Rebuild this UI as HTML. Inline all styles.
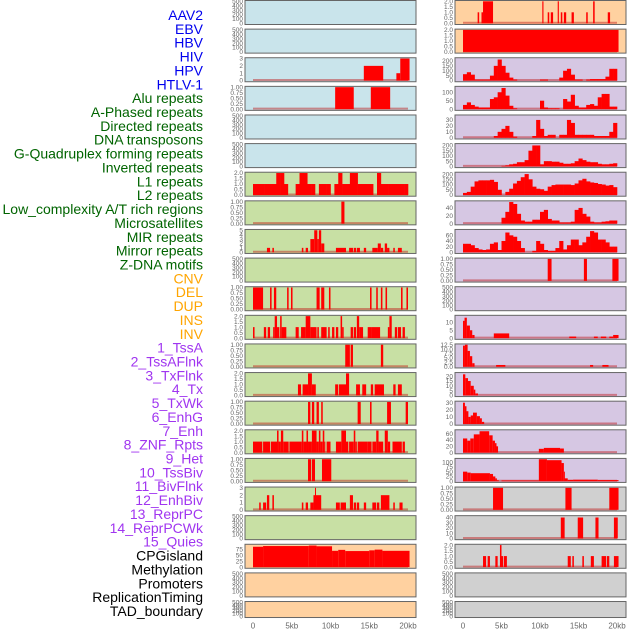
<!DOCTYPE html>
<html><head><meta charset="utf-8">
<style>
html,body{margin:0;padding:0;background:#fff;}
svg{display:block;}
.lab{font-family:"Liberation Sans",sans-serif;font-size:14px;}
.tk{font-family:"Liberation Sans",sans-serif;font-size:6.5px;fill:#666;}
.xt{font-family:"Liberation Sans",sans-serif;font-size:8px;fill:#666;}
</style></head>
<body>
<svg id="chart" width="630" height="630" viewBox="0 0 630 630" xmlns="http://www.w3.org/2000/svg">
<g id="labels"></g>
<g id="panels"></g>
<g id="xaxis"></g>
</svg>
<script>
// ---- labels ----
const labelNames = ["AAV2","EBV","HBV","HIV","HPV","HTLV-1","Alu repeats","A-Phased repeats","Directed repeats","DNA transposons","G-Quadruplex forming repeats","Inverted repeats","L1 repeats","L2 repeats","Low_complexity A/T rich regions","Microsatellites","MIR repeats","Mirror repeats","Z-DNA motifs","CNV","DEL","DUP","INS","INV","1_TssA","2_TssAFlnk","3_TxFlnk","4_Tx","5_TxWk","6_EnhG","7_Enh","8_ZNF_Rpts","9_Het","10_TssBiv","11_BivFlnk","12_EnhBiv","13_ReprPC","14_ReprPCWk","15_Quies","CPGisland","Methylation","Promoters","ReplicationTiming","TAD_boundary"];
const labelGroups = [6,13,5,15,5];
const groupColors = ["#0000ee","#006400","#ffa500","#a035f0","#000000"];

// ---- tick label sets ----
const T500 = ["0","100","200","300","400","500"];
const T3 = ["0","1","2","3"];
const T5 = ["0","1","2","3","4","5"];
const T1 = ["0.00","0.25","0.50","0.75","1.00"];
const T2 = ["0.0","0.5","1.0","1.5","2.0"];
const T75 = ["0","25","50","75"];
const T200 = ["0","50","100","150","200"];
const T100 = ["0","50","100"];
const T30 = ["0","10","20","30"];
const T40 = ["0","20","40"];
const T60 = ["0","20","40","60"];
const T10 = ["0","5","10"];
const T12 = ["0.0","2.5","5.0","7.5","10.0","12.5"];
const T20 = ["0","5","10","15","20"];
const T100b = ["0","25","50","75","100"];
const T40b = ["0","10","20","30","40"];

// ---- left column data (segments: start kb, end kb, value) ----
const L2 = [14.3,16.8,2, 18.5,19.0,1, 19.0,20.2,3];
const L3 = [10.6,13.0,1, 15.2,17.7,1];
const L6bins = [1,1,1,1,1,1,2,2,1,0,0,1,2,2,1,1,0,1,1,1,0,1,2,1,1,2,2,1,1,1,1,0,2,1,1,1,1,1,1,1];
const L7 = [11.4,11.8,1];
const L8 = [1.8,2.2,1, 2.5,2.7,1, 6.3,6.5,1, 6.8,7.1,1, 7.4,7.9,3, 7.9,8.3,5, 8.3,8.5,3, 8.5,8.8,5, 8.8,9.2,2, 10.7,12.0,1, 12.4,12.9,1, 13.0,13.3,1, 13.4,13.8,1, 14.3,14.6,1, 15.4,16.1,1, 16.1,16.5,2, 16.5,16.8,1, 17.0,17.3,2, 17.3,17.6,1, 18.1,18.3,1, 18.7,19.2,1];
const L10 = [0,1.3,1, 2.2,2.4,1, 2.7,3.0,1, 4.4,4.6,1, 4.9,5.1,1, 8.2,8.6,1, 8.8,9.2,1, 9.8,10.0,1, 15.1,15.3,1, 15.9,16.1,1, 16.5,16.7,1, 17.1,17.3,1, 19.1,19.3,1, 19.8,20.0,1];
const L11 = [0,0.2,1, 1.4,1.7,1, 1.9,2.2,1, 2.6,2.8,1, 2.8,3.1,2, 3.1,3.4,1, 3.5,3.7,2, 3.7,4.3,1, 5.5,5.9,1, 6.2,6.8,1, 6.8,7.4,2, 7.4,8.2,1, 8.3,8.5,1, 8.8,9.5,1, 9.7,9.9,1, 10.2,10.5,1, 10.7,11.0,1, 11.3,11.5,2, 11.5,11.7,1, 12.6,12.9,1, 13.0,13.3,1, 13.4,13.7,2, 13.7,14.2,1, 14.8,15.3,1, 15.3,16.4,1, 17.4,17.6,1, 17.6,17.9,2, 18.3,18.6,1, 18.7,19.1,1, 19.3,19.6,1];
const L12 = [11.9,12.5,1, 12.6,12.9,1, 16.5,16.8,1];
const L13 = [5.8,6.2,1, 6.4,7.1,1, 7.1,7.6,2, 7.6,8.1,1, 10.6,11.0,1, 11.1,12.0,1, 12.0,12.4,2, 13.3,13.8,1, 14.1,14.6,1, 15.2,15.5,1, 15.7,16.9,1, 18.1,18.4,1, 18.7,19.2,1];
const L14 = [7.1,7.4,1, 7.6,7.9,1, 8.2,8.5,1, 8.8,9.0,1, 13.5,13.9,1, 15.1,15.3,1, 17.3,17.8,1, 19.7,20.0,1];
const L15 = [0,1.2,1, 1.3,2.2,1, 2.3,3.1,1, 3.1,3.3,2, 3.3,3.6,1, 3.6,3.9,2, 3.9,4.6,1, 4.7,6.3,1, 6.3,6.5,2, 6.5,6.9,1, 6.9,7.1,2, 7.1,7.6,1, 7.6,8.2,2, 8.2,8.5,1, 8.5,8.7,2, 8.7,9.0,1, 9.0,9.2,2, 9.2,9.3,1, 9.5,10.0,1, 10.7,11.4,1, 11.4,12.0,2, 12.0,12.3,1, 12.4,13.0,1, 13.0,13.2,2, 13.2,13.4,1, 13.5,14.8,1, 14.8,15.3,1, 15.4,15.9,1, 15.9,16.2,2, 16.2,16.8,1, 17.0,17.4,2, 17.4,17.7,1, 18.0,19.2,1, 19.3,19.6,1];
const L16 = [7.1,7.5,1, 7.6,8.0,1, 8.9,10.1,1];
const L17 = [0.8,1.0,1, 1.3,1.7,1, 1.8,2.1,2, 2.5,2.7,2, 6.3,6.5,1, 6.8,7.1,1, 7.4,7.8,1, 7.8,8.0,2, 8.0,8.1,3, 8.1,8.8,2, 10.7,11.2,1, 11.3,12.0,1, 12.5,12.9,2, 13.0,13.3,1, 13.4,13.7,1, 14.3,14.6,1, 15.4,15.9,1, 16.0,16.3,1, 16.5,17.6,2, 18.1,18.3,1, 18.9,19.3,1];
const L19 = [0,1.3,85, 1.3,7.2,88, 7.2,8.2,90, 8.2,10.2,87, 10.2,11.0,68, 11.0,11.9,72, 11.9,15.0,67, 15.0,15.7,70, 15.7,16.7,73, 16.7,20.2,68];

// ---- right column data ----
const R0 = [1.9,2.1,1, 2.4,2.6,1, 2.6,3.9,2, 10.3,10.45,2, 11.0,11.2,1, 11.4,11.7,1, 12.3,12.45,2, 12.7,12.9,1, 13.1,13.4,1, 14.1,14.4,1, 16.0,16.2,1, 16.9,17.1,2, 18.8,19.1,1];
const R1 = [0,20.2,2];
const R2bins = [65,85,60,10,10,10,10,50,150,215,150,80,30,10,0,0,0,0,0,0,10,10,0,0,0,30,100,120,60,10,10,0,10,15,15,15,15,40,120,120];
const R3bins = [25,40,25,15,10,10,10,60,70,100,125,80,20,5,0,0,0,0,0,0,50,10,5,5,5,0,60,45,85,20,10,10,25,30,20,70,90,90,15,15];
const R4bins = [0,0,0,0,0,0,0,0,3,10,15,20,10,2,0,0,0,0,3,30,15,3,5,5,0,5,5,30,25,5,5,5,5,5,3,3,3,3,10,25];
const R5bins = [0,0,0,0,0,0,0,0,0,0,5,10,20,25,40,40,60,150,200,200,20,50,50,45,45,35,25,25,30,50,75,60,45,40,40,25,20,20,25,30];
const R6bins = [20,30,80,130,140,140,140,145,125,50,0,30,60,110,135,170,200,150,80,60,55,40,80,95,100,100,100,100,95,110,140,155,130,120,115,105,100,90,95,75];
const R7bins = [0,0,0,0,0,0,0,0,0,0,15,30,55,50,25,8,5,5,10,10,30,35,12,8,8,3,3,3,5,35,40,25,18,5,3,3,5,6,8,8];
const R8bins = [30,30,25,15,10,8,10,30,35,8,40,70,60,55,40,15,0,0,5,40,30,8,5,5,15,40,10,25,45,45,25,35,55,75,70,45,45,35,20,20];
const R9 = [11.0,11.5,1, 15.7,16.1,1, 19.4,20.2,1];
const R11 = [0,0.2,11, 0.2,0.5,13, 0.5,0.9,8, 0.9,1.2,5, 1.2,1.5,2, 4.0,6.0,3, 13.8,14.7,1, 17.0,17.5,1, 17.9,18.6,1, 19.0,19.5,1, 19.5,20.2,2];
const R12 = [0,0.25,12, 0.25,0.6,12.5, 0.6,0.9,9, 0.9,1.2,6, 1.2,1.5,2, 4.3,5.5,1, 16.5,16.9,1, 18.1,18.9,1];
const R13 = [0,0.3,22, 0.3,0.65,18, 0.65,1.0,15, 1.0,1.4,10, 1.4,1.6,6, 1.6,1.95,2];
const R14 = [0,0.25,30, 0.25,0.45,25, 0.45,0.7,18, 0.7,1.0,10, 1.0,1.3,12, 1.3,1.8,16, 1.8,2.2,11, 2.2,2.45,8, 2.45,2.75,3];
const R15 = [0,0.55,45, 0.55,0.95,38, 0.95,1.4,45, 1.4,2.15,58, 2.15,3.4,68, 3.4,3.85,55, 3.85,4.15,38, 4.15,4.35,30, 4.35,4.55,20, 9.85,10.5,12, 10.5,12.6,15, 12.6,13.1,13];
const R16 = [0,0.55,50, 0.55,1.0,45, 1.0,3.5,42, 3.5,3.9,38, 3.9,4.2,25, 4.2,4.4,15, 4.4,4.65,5, 5.0,9.85,4, 9.85,10.9,115, 10.9,12.8,110, 12.8,13.1,95, 13.1,13.2,50, 13.2,13.6,15, 13.6,14.3,7, 14.3,17.5,8, 17.5,20.2,6];
const R17 = [3.9,5.2,1, 13.3,14.1,1, 19.0,20.2,1];
const R18 = [12.7,13.2,40, 14.9,15.6,40, 17.2,17.6,40, 19.6,20.1,40];
const R19 = [2.6,3.0,1, 3.2,3.5,1, 4.2,4.5,1, 4.8,5.0,2, 5.0,5.2,1, 5.3,5.7,1, 13.6,14.0,1, 14.2,14.4,1, 15.5,15.7,1, 16.6,17.0,1, 18.0,18.6,1, 18.7,19.0,1, 19.6,20.2,1];

const xTickValues = [0,5,10,15,20];
const xTickLabels = ["0","5kb","10kb","15kb","20kb"];

// ---- panel configuration (col, row, bg, ymax, ticks, data) ----
const BLUE="#c9e4eb", GREEN="#c8e0a4", PURPLE="#d6c7e3", GRAY="#d0d0d0", PEACH="#ffd1a0";
const panels = [
 [0,0,BLUE,500,T500,null,null],[0,1,BLUE,500,T500,null,null],[0,2,BLUE,3,T3,L2,null],[0,3,BLUE,1,T1,L3,null],
 [0,4,BLUE,500,T500,null,null],[0,5,BLUE,500,T500,null,null],[0,6,GREEN,2,T2,null,L6bins],[0,7,GREEN,1,T1,L7,null],
 [0,8,GREEN,5,T5,L8,null],[0,9,GREEN,500,T500,null,null],[0,10,GREEN,1,T1,L10,null],[0,11,GREEN,2,T2,L11,null],
 [0,12,GREEN,1,T1,L12,null],[0,13,GREEN,2,T2,L13,null],[0,14,GREEN,1,T1,L14,null],[0,15,GREEN,2,T2,L15,null],
 [0,16,GREEN,1,T1,L16,null],[0,17,GREEN,3,T3,L17,null],[0,18,GREEN,500,T500,null,null],[0,19,PEACH,92,T75,L19,null],
 [0,20,PEACH,500,T500,null,null],[0,21,PEACH,500,T500,null,null],
 [1,0,PEACH,2,T2,R0,null],[1,1,PEACH,2,T2,R1,null],[1,2,PURPLE,225,T200,null,R2bins],[1,3,PURPLE,130,T100,null,R3bins],
 [1,4,PURPLE,37,T30,null,R4bins],[1,5,PURPLE,210,T200,null,R5bins],[1,6,PURPLE,210,T200,null,R6bins],[1,7,PURPLE,56,T40,null,R7bins],
 [1,8,PURPLE,78,T60,null,R8bins],[1,9,PURPLE,1,T1,R9,null],[1,10,PURPLE,500,T500,null,null],[1,11,PURPLE,14,T10,R11,null],
 [1,12,PURPLE,12.5,T12,R12,null],[1,13,PURPLE,23,T20,R13,null],[1,14,PURPLE,31,T30,R14,null],[1,15,PURPLE,70,T60,R15,null],
 [1,16,PURPLE,115,T100b,R16,null],[1,17,GRAY,1,T1,R17,null],[1,18,GRAY,42,T40b,R18,null],[1,19,GRAY,2,T2,R19,null],
 [1,20,GRAY,500,T500,null,null],[1,21,GRAY,500,T500,null,null]
];

const NS="http://www.w3.org/2000/svg";
function mk(tag, attrs, parent){const e=document.createElementNS(NS,tag);for(const k in attrs)e.setAttribute(k,attrs[k]);parent.appendChild(e);return e;}

// labels
const lg=document.getElementById('labels');
let li=0;
labelGroups.forEach((n,gi)=>{for(let j=0;j<n;j++){
  const t=mk('text',{x:203,y:(15+li*13.86+5).toFixed(1),'text-anchor':'end',class:'lab',fill:groupColors[gi]},lg);
  
  
  t.textContent=labelNames[li]; li++;
}});

const colX=[{left:245,right:416,x0:253,pxkb:7.75,tickX:243},{left:455,right:626,x0:463,pxkb:7.7,tickX:453}];
const pg=document.getElementById('panels');
panels.forEach(p=>{
  const [col,row,bg,ymax,ticks,segs,bins]=p;
  const c=colX[col];
  const top=row*28.62+0.5;
  const h=row===21?16:24;
  const bottom=top+h;
  const g=mk('g',{},pg);
  
  
  mk('rect',{x:c.left,y:top,width:c.right-c.left,height:h,fill:bg,stroke:'none'},g);
  const xs=kb=>c.x0+kb*c.pxkb;
  const y0=bottom-1.2, y1=top+0.8;
  const ys=v=>y0-(v/ymax)*(y0-y1);
  // ticks
  ticks.forEach(tl=>{
    const t=mk('text',{x:c.tickX,y:(ys(parseFloat(tl))+2.2).toFixed(1),'text-anchor':'end',class:'tk'},g);
    
    
    t.textContent=tl;
  });
  const hasData = segs||bins;
  if(hasData){
    const bl=mk('line',{x1:xs(0),x2:xs(20),y1:y0-0.5,y2:y0-0.5,stroke:'rgba(190,20,20,0.45)','stroke-width':2},g);
    
    
  }
  if(segs){
    for(let i=0;i<segs.length;i+=3){
      const a=xs(segs[i]), b=xs(segs[i+1]), v=segs[i+2];
      const r=mk('rect',{x:a.toFixed(2),y:ys(v).toFixed(2),width:Math.max(1,b-a).toFixed(2),height:(y0-ys(v)).toFixed(2),fill:'#ff0000'},g);
      
      
    }
  }
  if(bins){
    const w=20/bins.length;
    bins.forEach((v,i)=>{
      if(v<=0) return;
      const a=xs(i*w), b=xs((i+1)*w);
      const r=mk('rect',{x:a.toFixed(2),y:ys(v).toFixed(2),width:(b-a+0.3).toFixed(2),height:(y0-ys(v)).toFixed(2),fill:'#ff0000'},g);
      
      
    });
  }
  mk('rect',{x:c.left,y:top,width:c.right-c.left,height:h,fill:'none',stroke:'#666','stroke-width':1},g);
});

// x axes
const xg=document.getElementById('xaxis');
colX.forEach(c=>{
  xTickValues.forEach((v,i)=>{
    const t=mk('text',{x:(c.x0+v*c.pxkb).toFixed(1),y:628.5,'text-anchor':'middle',class:'xt'},xg);
    
    
    t.textContent=xTickLabels[i];
  });
});
</script>
</body></html>
